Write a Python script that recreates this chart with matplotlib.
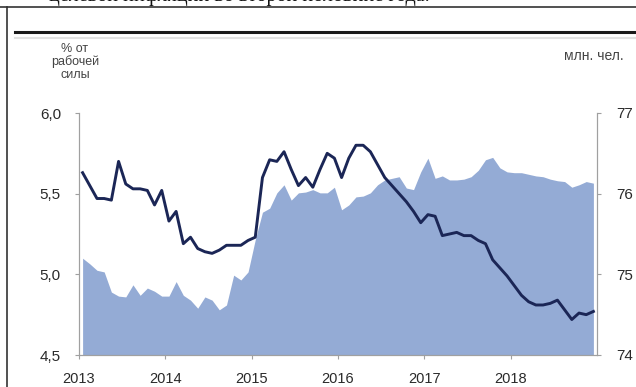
import numpy as np
import matplotlib.pyplot as plt
from matplotlib.ticker import FuncFormatter, FixedLocator

plt.rcParams['font.family'] = ['Liberation Sans', 'DejaVu Sans']

# monthly data, Jan 2013 - Dec 2018
unemployment = [
    5.63, 5.55, 5.47, 5.47, 5.46, 5.70, 5.56, 5.53, 5.53, 5.52, 5.43, 5.52,
    5.33, 5.39, 5.19, 5.23, 5.16, 5.14, 5.13, 5.15, 5.18, 5.18, 5.18, 5.21,
    5.23, 5.60, 5.71, 5.70, 5.76, 5.65, 5.55, 5.60, 5.54, 5.65, 5.75, 5.72,
    5.60, 5.72, 5.80, 5.80, 5.76, 5.68, 5.60, 5.55, 5.50, 5.45, 5.39, 5.32,
    5.37, 5.36, 5.24, 5.25, 5.26, 5.24, 5.24, 5.21, 5.19, 5.09, 5.04, 4.99,
    4.93, 4.87, 4.83, 4.81, 4.81, 4.82, 4.84, 4.78, 4.72, 4.76, 4.75, 4.77,
]
labour_force = [
    75.20, 75.13, 75.05, 75.03, 74.78, 74.73, 74.72, 74.87, 74.74, 74.83, 74.79, 74.73,
    74.73, 74.91, 74.74, 74.68, 74.58, 74.72, 74.68, 74.56, 74.62, 74.99, 74.93, 75.03,
    75.43, 75.77, 75.82, 76.01, 76.11, 75.92, 76.01, 76.02, 76.05, 76.01, 76.01, 76.08,
    75.80, 75.86, 75.96, 75.97, 76.01, 76.11, 76.17, 76.19, 76.21, 76.07, 76.05, 76.27,
    76.44, 76.19, 76.22, 76.17, 76.17, 76.18, 76.21, 76.29, 76.42, 76.45, 76.32, 76.27,
    76.26, 76.26, 76.24, 76.22, 76.21, 76.18, 76.16, 76.15, 76.08, 76.11, 76.15, 76.13,
]
years = [2013, 2014, 2015, 2016, 2017, 2018]
left_ticks = [4.5, 5.0, 5.5, 6.0]
right_ticks = [74, 75, 76, 77]

t = 2013 + (np.arange(len(unemployment)) + 0.5) / 12

fig = plt.figure(figsize=(6.36, 3.87), dpi=100)
W, H = 636, 387

ax = fig.add_axes([79 / W, 1 - 355 / H, (597 - 79) / W, (355 - 113) / H])
ax2 = ax.twinx()

ax2.fill_between(t, 74, labour_force, color='#94abd5', lw=0)
ax2.set_ylim(74, 77)
ax2.set_yticks(right_ticks)

ax.plot(t, unemployment, color='#1b2656', lw=2.1, solid_joinstyle='round')
ax.set_ylim(4.5, 6.0)
ax.set_xlim(2013, 2019)
ax.set_yticks(left_ticks)
ax.yaxis.set_major_formatter(FuncFormatter(lambda v, p: f'{v:.1f}'.replace('.', ',')))
ax.xaxis.set_major_locator(FixedLocator(years))
ax.set_xticklabels([str(y) for y in years])

# line above the filled area
ax.set_zorder(ax2.get_zorder() + 1)
ax.patch.set_visible(False)

for a in (ax, ax2):
    a.spines['top'].set_visible(False)
    for s in ('left', 'right', 'bottom'):
        a.spines[s].set_color('#a0a0a0')
        a.spines[s].set_linewidth(0.8)

ax.tick_params(axis='y', length=3, pad=10, labelsize=11, colors='#a0a0a0',
               labelcolor='#2a2a2a')
ax.tick_params(axis='x', length=3, pad=9, labelsize=10.5, colors='#a0a0a0',
               labelcolor='#2a2a2a')
ax2.tick_params(axis='y', length=3, pad=11, labelsize=11, colors='#a0a0a0',
                labelcolor='#2a2a2a')

fig.text(75 / W, 1 - 62 / H, '% от\nрабочей\nсилы', ha='center', va='center',
         fontsize=9, color='#444444', linespacing=1.05)
fig.text(594 / W, 1 - 56 / H, 'млн. чел.', ha='center', va='center',
         fontsize=10, color='#444444')

# heavy rule above the chart and the thin line below it
fig.add_artist(plt.Line2D([15 / W, 1], [1 - 32 / H] * 2, color='#1a1a1a', lw=2.2))
fig.add_artist(plt.Line2D([15 / W, 1], [1 - 38 / H] * 2, color='#e2e2e2', lw=1.5))

# page frame and the end of the sentence above it
fig.add_artist(plt.Line2D([0, 1], [1 - 7 / H] * 2, color='#333333', lw=1.2))
fig.add_artist(plt.Line2D([7 / W] * 2, [0, 1 - 7 / H], color='#333333', lw=1.2))
fig.text(430 / W, 1 - 1 / H, 'целевой инфляции во второй половине года.',
         ha='right', va='baseline', fontsize=14.5, color='#111111',
         family='Liberation Serif')

fig.savefig('out.png', dpi=100)
